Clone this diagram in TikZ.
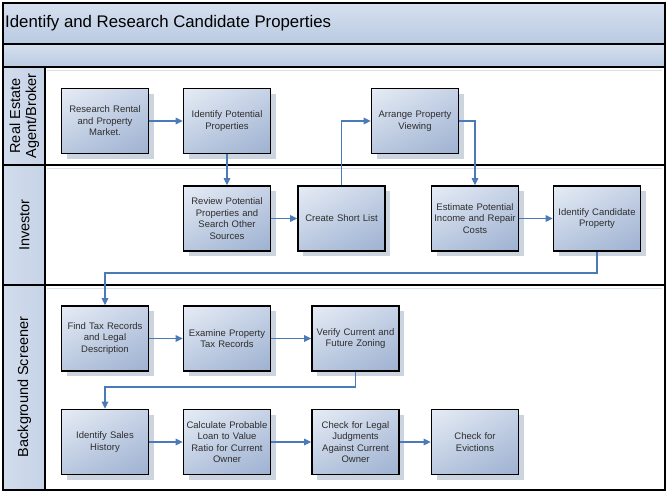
\documentclass[tikz,border=0pt]{standalone}
\usepackage{fontspec}
\setmainfont{Liberation Sans}
\usetikzlibrary{arrows.meta,shadings,calc}
\definecolor{hdrA}{HTML}{D6E0EF}
\definecolor{hdrB}{HTML}{B9CAE2}
\definecolor{lanecol}{HTML}{C6D3E7}
\definecolor{arrcol}{HTML}{4A7AB8}
\definecolor{shcol}{HTML}{CCD4E0}
\definecolor{txtcol}{HTML}{2E2E2E}
\definecolor{bxUL}{HTML}{E6ECF5}
\definecolor{bxUR}{HTML}{C6D2E6}
\definecolor{bxLL}{HTML}{B9C8DF}
\definecolor{bxLR}{HTML}{9DB1D1}
\tikzset{
  box/.style={draw=black, line width=1.6pt, minimum width=87pt, minimum height=65pt,
    inner sep=0pt, text width=86pt, align=center, text=txtcol,
    font=\fontsize{9.5}{11.5}\selectfont,
    upper left=bxUL, upper right=bxUR,
    lower left=bxLL, lower right=bxLR},
  boxshadow/.style={fill=shcol},
  arr/.style={draw=arrcol, line width=1.2pt, -{Triangle[length=7pt,width=6.5pt]}},
  frameline/.style={draw=black, line width=1.6pt},
  lanelabel/.style={rotate=90, align=center, text=black, font=\fontsize{14.5}{16}\selectfont}
}
\newcommand\procbox[3]{%
  \coordinate (#1c) at (#2);
  \fill[boxshadow] ([shift={(-38.5pt,-37.5pt)}]#1c) rectangle ([shift={(48.5pt,27.5pt)}]#1c);
  \node[box] (#1) at (#1c) {#3};}
\begin{document}
\begin{tikzpicture}[x=1pt,y=-1pt]
\useasboundingbox (0,0) rectangle (672,498);
\fill[white] (0,0) rectangle (672,498);
% header bands
\shade[top color=hdrA, bottom color=hdrB] (3,3) rectangle (665,44);
\shade[top color=hdrA, bottom color=hdrB] (3,44) rectangle (665,67);
% lane header column
\shade[left color=lanecol!80!white, right color=lanecol] (3,67) rectangle (45,490);
% faint inner lines
\draw[draw=hdrA, line width=1pt] (47,70) -- (662,70);
\draw[draw=hdrA, line width=1pt] (47,168) -- (662,168);
\draw[draw=hdrA, line width=1pt] (47,288) -- (662,288);
% frame
\draw[frameline] (3,3) rectangle (665,490);
\draw[frameline] (3,44) -- (665,44);
\draw[frameline] (3,67) -- (665,67);
\draw[frameline] (3,165) -- (665,165);
\draw[frameline] (3,285) -- (665,285);
\draw[frameline] (45,67) -- (45,490);
% title
\node[anchor=west, inner sep=0pt, font=\fontsize{16.8}{19}\selectfont] (title) at (5,23.5) {Identify and Research Candidate Properties};
% lane labels
\node[lanelabel] (l1) at (24.5,116) {Real Estate\\Agent/Broker};
\node[lanelabel] (l2) at (24.5,225) {Investor};
\node[lanelabel] (l3) at (24.5,387) {Background Screener};
% boxes
\procbox{r1}{105,121}{Research Rental\\and Property\\Market.}
\procbox{r2}{227,121}{Identify Potential\\Properties}
\procbox{r3}{415,121}{Arrange Property\\Viewing}
\procbox{i1}{227,218.5}{Review Potential\\Properties and\\Search Other\\Sources}
\procbox{i2}{341.5,218.5}{Create Short List}
\procbox{i3}{475,218.5}{Estimate Potential\\Income and Repair\\Costs}
\procbox{i4}{597,218.5}{Identify Candidate\\Property}
\procbox{b1}{105,338.5}{Find Tax Records\\and Legal\\Description}
\procbox{b2}{227,338.5}{Examine Property\\Tax Records}
\procbox{b3}{355.5,338.5}{Verify Current and\\Future Zoning}
\procbox{c1}{105,442}{Identify Sales\\History}
\procbox{c2}{227,442}{Calculate Probable\\Loan to Value\\Ratio for Current\\Owner}
\procbox{c3}{355.5,442}{Check for Legal\\Judgments\\Against Current\\Owner}
\procbox{c4}{475,442}{Check for\\Evictions}
% connectors
\coordinate (k1) at (0,273);
\coordinate (k2) at (0,387);
\draw[arr] (r1) -- (r2);
\draw[arr] (r2) -- (i1);
\draw[arr] (i1) -- (i2);
\draw[arr] (i2.north) |- (r3.west);
\draw[arr] (r3.east) -| (i3.north);
\draw[arr] (i3) -- (i4);
\draw[arr] (i4.south) -- (i4.south |- k1) -| (b1.north);
\draw[arr] (b1) -- (b2);
\draw[arr] (b2) -- (b3);
\draw[arr] (b3.south) -- (b3.south |- k2) -| (c1.north);
\draw[arr] (c1) -- (c2);
\draw[arr] (c2) -- (c3);
\draw[arr] (c3) -- (c4);
\end{tikzpicture}
\end{document}
